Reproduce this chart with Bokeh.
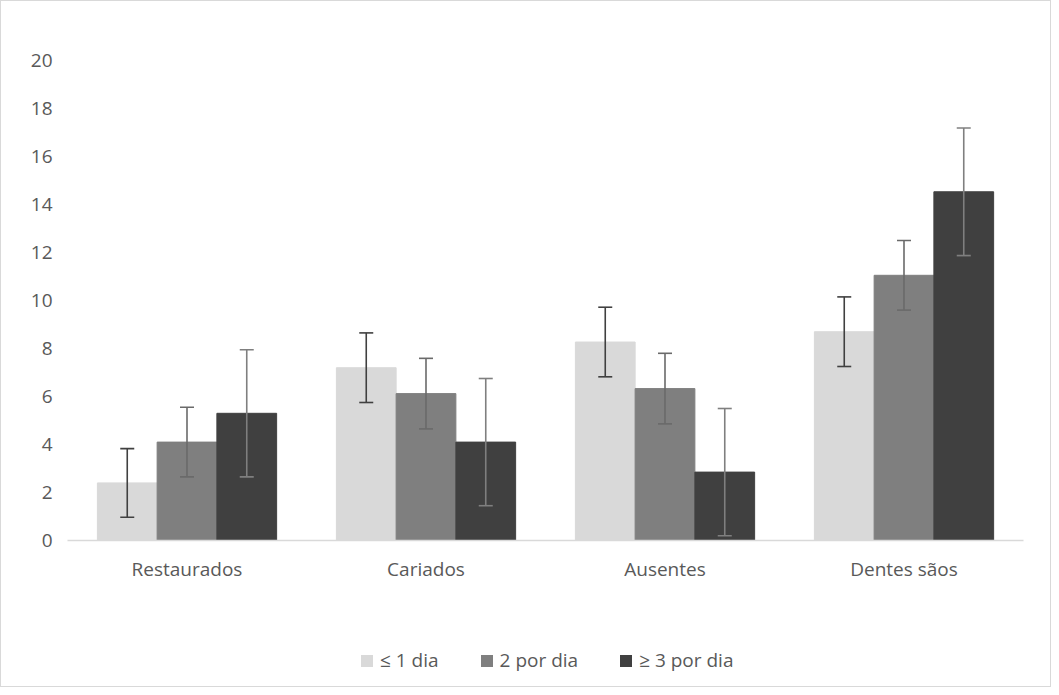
from bokeh.plotting import figure
from bokeh.layouts import column
from bokeh.models import (FactorRange, Range1d, ColumnDataSource, Whisker, TeeHead,
                          Legend, LegendItem, FixedTicker)
from bokeh.transform import dodge
from bokeh.embed import file_html
from bokeh.resources import INLINE

categories = ["Restaurados", "Cariados", "Ausentes", "Dentes sãos"]
series = ["≤ 1 dia", "2 por dia", "≥ 3 por dia"]
v1 = [2.4, 7.2, 8.27, 8.7]
v2 = [4.1, 6.12, 6.33, 11.05]
v3 = [5.3, 4.1, 2.85, 14.53]
e1 = [1.43, 1.45, 1.45, 1.45]
e2 = [1.45, 1.47, 1.47, 1.45]
e3 = [2.65, 2.65, 2.65, 2.66]
yticks = [0, 2, 4, 6, 8, 10, 12, 14, 16, 18, 20]

fills = ["#d9d9d9", "#7f7f7f", "#404040"]
err_cols = ["#404040", "#6a6a6a", "#7f7f7f"]
offsets = [-0.25, 0.0, 0.25]
FONT = "Open Sans"
FS = "19px"
TXT = "#595959"

W = 1049
p = figure(x_range=FactorRange(*categories, range_padding=0), y_range=Range1d(0, 20),
           width=W, height=630, output_backend="svg", toolbar_location=None,
           min_border_left=66, min_border_right=27, min_border_top=59, min_border_bottom=91)
p.outline_line_color = None
p.xgrid.grid_line_color = None
p.ygrid.grid_line_color = None

for vals, errs, fc, ec, off in zip([v1, v2, v3], [e1, e2, e3], fills, err_cols, offsets):
    src = ColumnDataSource(dict(cat=categories, val=vals,
                                lo=[v - e for v, e in zip(vals, errs)],
                                hi=[v + e for v, e in zip(vals, errs)]))
    p.vbar(x=dodge("cat", off, range=p.x_range), top="val", width=0.25, source=src,
           fill_color=fc, line_color=fc)
    w = Whisker(base=dodge("cat", off, range=p.x_range), upper="hi", lower="lo", source=src,
                line_color=ec, line_width=1.6, level="overlay",
                upper_head=TeeHead(size=14, line_color=ec, line_width=1.6),
                lower_head=TeeHead(size=14, line_color=ec, line_width=1.6))
    p.add_layout(w)

p.yaxis.ticker = FixedTicker(ticks=yticks)
p.yaxis.axis_line_color = None
p.yaxis.major_tick_line_color = None
p.yaxis.minor_tick_line_color = None
p.yaxis.major_label_standoff = 9
p.yaxis.major_label_text_font = FONT
p.yaxis.major_label_text_font_size = FS
p.yaxis.major_label_text_color = TXT

p.xaxis.axis_line_color = "#d9d9d9"
p.xaxis.axis_line_width = 1.5
p.xaxis.major_tick_line_color = None
p.xaxis.major_label_standoff = 9
p.xaxis.major_label_text_font = FONT
p.xaxis.major_label_text_font_size = FS
p.xaxis.major_label_text_color = TXT

# legend strip below the chart (proxy glyphs have zero height, so they draw nothing)
lf = figure(width=W, height=55, x_range=Range1d(0, 1), y_range=Range1d(0, 1),
            output_backend="svg", toolbar_location=None, x_axis_type=None, y_axis_type=None,
            min_border=0)
lf.outline_line_color = None
lf.xgrid.grid_line_color = None
lf.ygrid.grid_line_color = None
items = []
for name, fc in zip(series, fills):
    r = lf.vbar(x=[0.5], top=[0], bottom=[0], width=0.1, fill_color=fc, line_color=None)
    items.append(LegendItem(label=name, renderers=[r]))
legend = Legend(items=items, orientation="horizontal", location=(292, 13),
                glyph_width=15, glyph_height=15, label_standoff=6, spacing=40,
                padding=0, margin=0, border_line_color=None, background_fill_alpha=0,
                label_text_font=FONT, label_text_font_size=FS, label_text_color=TXT)
lf.add_layout(legend, "center")

layout = column(p, lf, spacing=0)
layout.styles = {"border": "1px solid #d9d9d9"}

open("out.html", "w").write(file_html(layout, INLINE))
